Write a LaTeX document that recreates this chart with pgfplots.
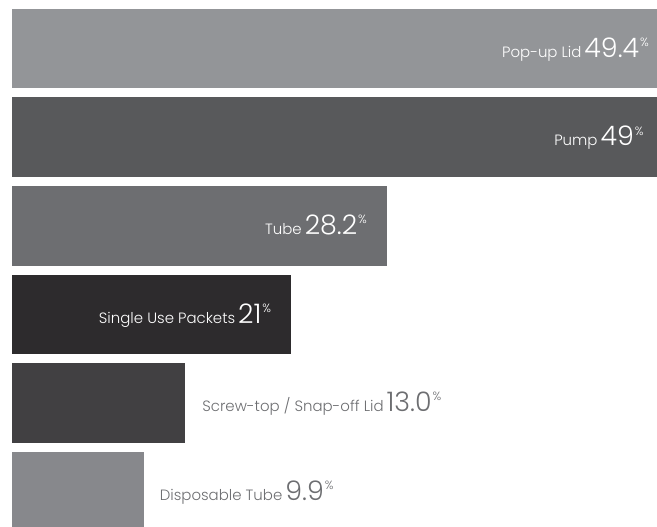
\documentclass[border=0pt]{standalone}
\usepackage{fontspec}
\setmainfont{Poppins}[UprightFont=* Light]
\usepackage{pgfplots}
\pgfplotsset{compat=1.18}
\definecolor{cA}{HTML}{939598}
\definecolor{cB}{HTML}{58595B}
\definecolor{cC}{HTML}{6D6E71}
\definecolor{cD}{HTML}{2D2B2D}
\definecolor{cE}{HTML}{414042}
\definecolor{cF}{HTML}{87888C}
\definecolor{txt}{HTML}{6D6E71}
\newcommand{\lab}[2]{{\fontsize{15}{15}\selectfont #1}\hspace{3pt}{\fontsize{27}{27}\selectfont #2}\hspace{1pt}\raisebox{11pt}{\fontsize{12}{12}\selectfont\%}}
\begin{document}
\begin{tikzpicture}
\path[use as bounding box] (0,0) rectangle (657bp,527bp);
\begin{axis}[
  at={(12bp,0bp)}, anchor=south west,
  scale only axis, width=645bp, height=527bp,
  xmin=0, xmax=48.5, ymin=-0.398, ymax=5.547,
  axis lines=none, ticks=none,
  xbar, bar shift=0pt, bar width=0.897,
  every axis plot/.append style={draw=none},
  clip=true,
]
\addplot[fill=cA] coordinates {(49.4,5)};
\addplot[fill=cB] coordinates {(49,4)};
\addplot[fill=cC] coordinates {(28.2,3)};
\addplot[fill=cD] coordinates {(21,2)};
\addplot[fill=cE] coordinates {(13.0,1)};
\addplot[fill=cF] coordinates {(9.9,0)};
\node[anchor=base east, text=white, inner sep=0pt] at (axis cs:47.9,4.9) {\lab{Pop-up Lid}{49.4}};
\node[anchor=base east, text=white, inner sep=0pt] at (axis cs:47.5,3.9) {\lab{Pump}{49}};
\node[anchor=base east, text=white, inner sep=0pt] at (axis cs:26.7,2.9) {\lab{Tube}{28.2}};
\node[anchor=base east, text=white, inner sep=0pt] at (axis cs:19.5,1.9) {\lab{Single Use Packets}{21}};
\node[anchor=base west, text=txt, inner sep=0pt] at (axis cs:14.3,0.9) {\lab{Screw-top / Snap-off Lid}{13.0}};
\node[anchor=base west, text=txt, inner sep=0pt] at (axis cs:11.1,-0.1) {\lab{Disposable Tube}{9.9}};
\end{axis}
\end{tikzpicture}
\end{document}
